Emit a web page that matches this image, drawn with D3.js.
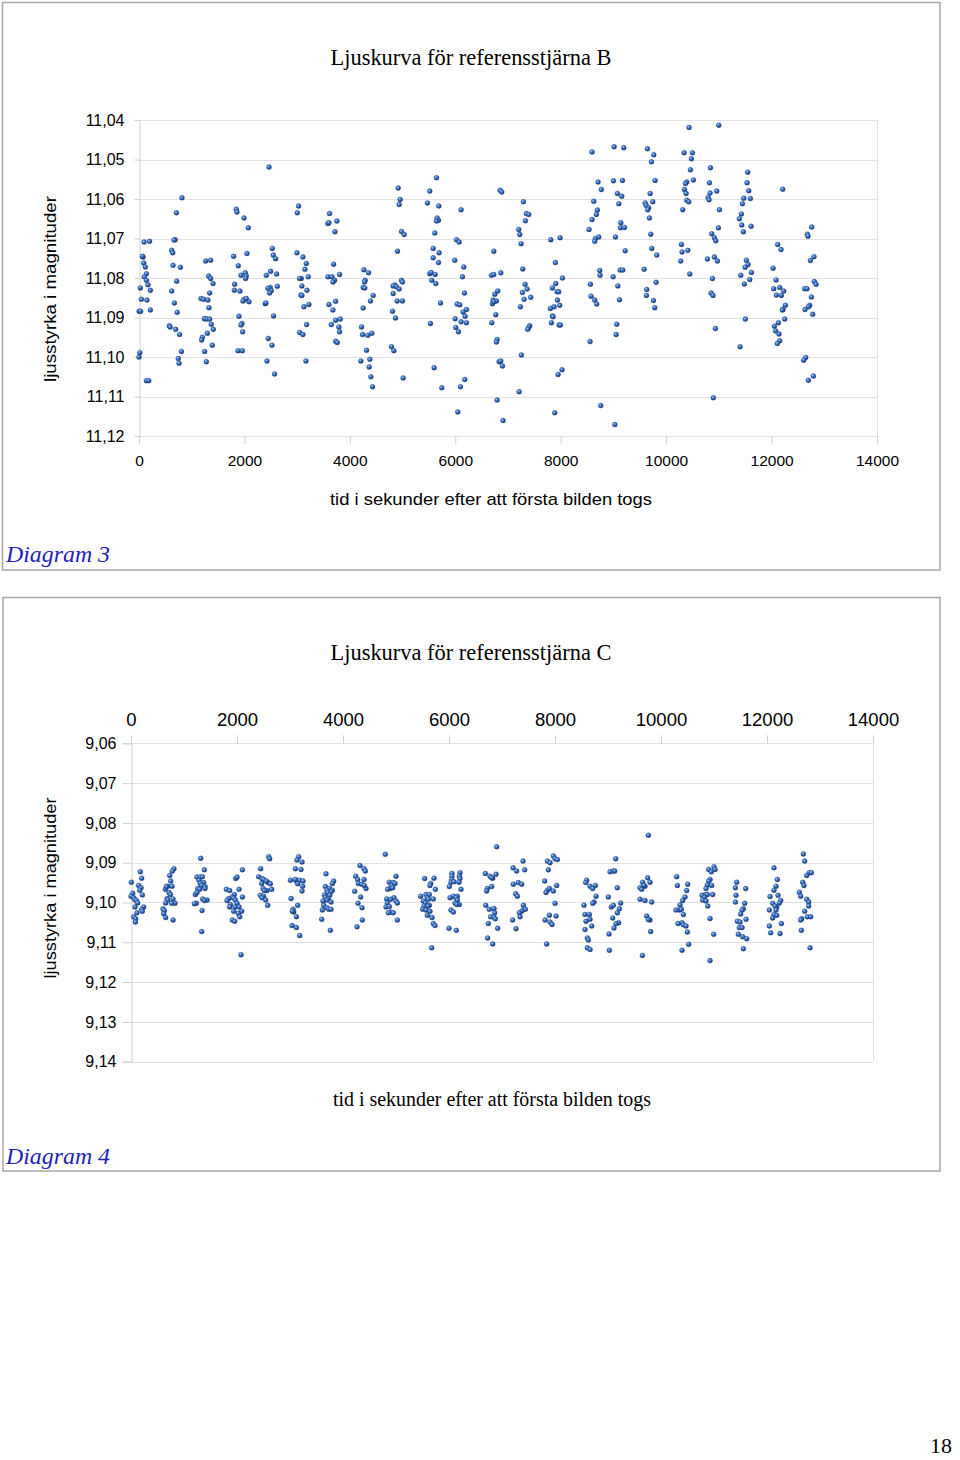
<!DOCTYPE html>
<html><head><meta charset="utf-8">
<script src="https://cdn.jsdelivr.net/npm/d3@7"></script>
<style>
html,body{margin:0;padding:0;background:#fff;}
svg{display:block;}
</style></head>
<body>
<svg id="chart" width="960" height="1460"></svg>
<script>
// ---------------- DATA ----------------
const titleB = "Ljuskurva för referensstjärna B";
const titleC = "Ljuskurva för referensstjärna C";
const xTitle = "tid i sekunder efter att första bilden togs";
const yTitle = "ljusstyrka i magnituder";
const captionB = "Diagram 3";
const captionC = "Diagram 4";
const pageNumber = "18";

const xTicks = [0, 2000, 4000, 6000, 8000, 10000, 12000, 14000];
const yTicksB = [11.04, 11.05, 11.06, 11.07, 11.08, 11.09, 11.10, 11.11, 11.12];
const yLabelsB = ["11,04","11,05","11,06","11,07","11,08","11,09","11,10","11,11","11,12"];
const yTicksC = [9.06, 9.07, 9.08, 9.09, 9.10, 9.11, 9.12, 9.13, 9.14];
const yLabelsC = ["9,06","9,07","9,08","9,09","9,10","9,11","9,12","9,13","9,14"];

// [time (s), magnitude] – reference star B
const starB = [
[0,11.0884],[30,11.0884],[0,11.1000],[15,11.0989],[95,11.0709],[200,11.0707],[75,11.0747],[65,11.0745],[90,11.0762],[120,11.0772],[140,11.0789],[100,11.0797],[170,11.0817],[140,11.0806],[25,11.0825],[215,11.0831],[45,11.0854],[150,11.0856],[215,11.0881],[140,11.1060],[185,11.1060],
[815,11.0597],[710,11.0635],[685,11.0703],[665,11.0704],[620,11.0730],[640,11.0736],[645,11.0768],[785,11.0773],[715,11.0808],[620,11.0833],[670,11.0863],[725,11.0887],[575,11.0921],[590,11.0924],[695,11.0930],[770,11.0943],[805,11.0986],[745,11.1004],[760,11.1016],
[1264,11.0757],[1359,11.0755],[1321,11.0795],[1359,11.0801],[1403,11.0814],[1340,11.0838],[1176,11.0852],[1226,11.0854],[1308,11.0856],[1327,11.0875],[1251,11.0903],[1239,11.0903],[1289,11.0904],[1340,11.0904],[1371,11.0917],[1409,11.0930],[1296,11.0940],[1201,11.0950],[1188,11.0957],[1390,11.0970],[1245,11.0986],[1277,11.1012],
[1845,11.0626],[1858,11.0633],[1991,11.0648],[2073,11.0673],[1795,11.0745],[2048,11.0738],[1883,11.0769],[2016,11.0787],[1934,11.0793],[2035,11.0795],[2022,11.0801],[1814,11.0816],[1808,11.0831],[1915,11.0833],[1997,11.0854],[1972,11.0858],[2086,11.0860],[2035,11.0852],[1896,11.0897],[1953,11.0915],[1934,11.0919],[1966,11.0936],[1877,11.0984],[1959,11.0984],
[2465,11.0519],[2528,11.0725],[2547,11.0742],[2591,11.0751],[2496,11.0783],[2610,11.0790],[2414,11.0793],[2490,11.0824],[2446,11.0826],[2509,11.0832],[2477,11.0838],[2395,11.0865],[2408,11.0863],[2553,11.0896],[2452,11.0953],[2522,11.0970],[2427,11.1010],[2572,11.1043],[2623,11.0821],
[3027,11.0618],[3002,11.0635],[2996,11.0736],[3109,11.0747],[3173,11.0763],[3147,11.0778],[3078,11.0801],[3046,11.0801],[3210,11.0797],[3090,11.0820],[3185,11.0831],[3071,11.0843],[3090,11.0844],[3128,11.0873],[3223,11.0867],[3179,11.0918],[3046,11.0938],[3109,11.0943],[3166,11.1010],
[3615,11.0637],[3583,11.0662],[3602,11.0660],[3754,11.0656],[3716,11.0683],[3691,11.0765],[3805,11.0791],[3583,11.0797],[3660,11.0797],[3710,11.0806],[3678,11.0810],[3729,11.0859],[3602,11.0867],[3678,11.0881],[3729,11.0907],[3818,11.0904],[3647,11.0918],[3792,11.0924],[3805,11.0936],[3729,11.0960],[3760,11.0963],
[4265,11.0779],[4354,11.0787],[4290,11.0806],[4278,11.0810],[4252,11.0824],[4284,11.0825],[4442,11.0844],[4391,11.0858],[4252,11.0876],[4221,11.0924],[4240,11.0943],[4341,11.0945],[4417,11.0940],[4316,11.0983],[4379,11.1006],[4208,11.1010],[4366,11.1025],[4398,11.1050],[4429,11.1075],
[4916,11.0572],[4954,11.0601],[4935,11.0614],[4979,11.0682],[5030,11.0690],[4903,11.0732],[4853,11.0818],[4821,11.0820],[4884,11.0822],[4979,11.0806],[4998,11.0810],[4821,11.0839],[4935,11.0828],[4897,11.0858],[4998,11.0858],[4809,11.0884],[4865,11.0901],[4790,11.0974],[4834,11.0984],[5011,11.1053],
[5643,11.0546],[5516,11.0580],[5472,11.0610],[5687,11.0618],[5655,11.0648],[5681,11.0654],[5643,11.0656],[5611,11.0686],[5580,11.0725],[5693,11.0736],[5580,11.0749],[5681,11.0761],[5516,11.0789],[5542,11.0786],[5618,11.0791],[5554,11.0806],[5630,11.0814],[5719,11.0863],[5529,11.0915],[5599,11.1027],[5744,11.1078],
[6110,11.0627],[6022,11.0703],[6073,11.0709],[5990,11.0755],[6161,11.0772],[6136,11.0797],[6174,11.0838],[6035,11.0866],[6085,11.0868],[6212,11.0880],[6148,11.0886],[6186,11.0897],[5997,11.0903],[6110,11.0911],[6212,11.0913],[6009,11.0925],[6060,11.0936],[6180,11.1057],[6098,11.1075],[6047,11.1139],
[6850,11.0578],[6882,11.0582],[6730,11.0732],[6686,11.0793],[6730,11.0791],[6863,11.0787],[6749,11.0841],[6806,11.0833],[6717,11.0856],[6780,11.0858],[6705,11.0865],[6730,11.0860],[6768,11.0893],[6692,11.0913],[6793,11.0956],[6780,11.0962],[6831,11.1012],[6863,11.1010],[6894,11.1023],[6793,11.1109],[6907,11.1161],
[7292,11.0607],[7349,11.0637],[7393,11.0639],[7330,11.0655],[7204,11.0677],[7223,11.0690],[7248,11.0713],[7280,11.0777],[7324,11.0816],[7273,11.0837],[7362,11.0828],[7431,11.0849],[7305,11.0854],[7235,11.0873],[7412,11.0921],[7393,11.0925],[7374,11.0930],[7254,11.0995],[7210,11.1088],
[7811,11.0703],[7988,11.0698],[7899,11.0761],[8032,11.0800],[7842,11.0825],[7906,11.0814],[7931,11.0835],[7962,11.0835],[7937,11.0856],[7874,11.0873],[7804,11.0877],[7981,11.0869],[7842,11.0896],[7855,11.0898],[7823,11.0913],[7969,11.0919],[7994,11.0919],[8025,11.1032],[7950,11.1044],[7886,11.1141],
[8594,11.0481],[8708,11.0557],[8771,11.0576],[8626,11.0606],[8695,11.0628],[8676,11.0639],[8594,11.0652],[8537,11.0677],[8657,11.0700],[8645,11.0707],[8721,11.0696],[8740,11.0781],[8746,11.0793],[8563,11.0816],[8575,11.0846],[8645,11.0856],[8683,11.0866],[8556,11.0961],[8759,11.1123],
[9013,11.0468],[9196,11.0470],[9000,11.0554],[9171,11.0553],[9076,11.0586],[9158,11.0593],[9102,11.0612],[9140,11.0660],[9133,11.0673],[9209,11.0672],[9038,11.0696],[9222,11.0731],[9127,11.0780],[9177,11.0780],[8994,11.0797],[9083,11.0820],[9114,11.0855],[9064,11.0917],[9051,11.0943],[9026,11.1171],
[9645,11.0473],[9765,11.0488],[9721,11.0506],[9790,11.0553],[9696,11.0586],[9601,11.0610],[9746,11.0607],[9620,11.0616],[9670,11.0622],[9651,11.0627],[9683,11.0648],[9708,11.0689],[9727,11.0725],[9822,11.0742],[9582,11.0778],[9809,11.0811],[9632,11.0829],[9626,11.0844],[9759,11.0857],[9784,11.0875],
[10435,11.0419],[10340,11.0483],[10498,11.0483],[10479,11.0498],[10460,11.0526],[10517,11.0552],[10391,11.0557],[10366,11.0561],[10347,11.0576],[10378,11.0586],[10391,11.0603],[10429,11.0607],[10315,11.0627],[10290,11.0715],[10302,11.0734],[10410,11.0730],[10277,11.0757],[10448,11.0790],
[10998,11.0413],[10840,11.0521],[10821,11.0559],[10960,11.0580],[10833,11.0585],[10795,11.0596],[10814,11.0602],[11010,11.0627],[10991,11.0673],[10865,11.0688],[10915,11.0698],[10941,11.0706],[10783,11.0752],[10915,11.0747],[10972,11.0757],[10878,11.0801],[10852,11.0838],[10890,11.0844],[10934,11.0928],[10896,11.1103],
[11547,11.0532],[11535,11.0559],[11566,11.0579],[11472,11.0598],[11598,11.0599],[11446,11.0612],[11427,11.0638],[11389,11.0650],[11434,11.0666],[11611,11.0669],[11465,11.0683],[11522,11.0755],[11554,11.0766],[11497,11.0773],[11617,11.0786],[11415,11.0793],[11585,11.0804],[11484,11.0815],[11503,11.0904],[11402,11.0974],
[12211,11.0575],[12116,11.0715],[12179,11.0728],[12028,11.0775],[12085,11.0805],[12040,11.0827],[12154,11.0824],[12230,11.0833],[12091,11.0843],[12186,11.0844],[12262,11.0869],[12217,11.0879],[12205,11.0881],[12249,11.0904],[12129,11.0913],[12053,11.0922],[12078,11.0934],[12141,11.0942],[12154,11.0959],[12110,11.0966],
[12761,11.0671],[12679,11.0689],[12691,11.0694],[12805,11.0746],[12736,11.0756],[12811,11.0809],[12843,11.0816],[12628,11.0827],[12672,11.0827],[12755,11.0848],[12723,11.0869],[12698,11.0873],[12634,11.0880],[12780,11.0892],[12647,11.1001],[12609,11.1008],[12793,11.1048],[12698,11.1059]
];

// [time (s), magnitude] – reference star C
const starC = [
[176,9.0923],[201,9.0939],[6,9.0949],[145,9.0957],[189,9.0963],[164,9.0969],[31,9.0977],[214,9.0981],[0,9.0984],[50,9.0988],[69,9.0992],[101,9.0995],[126,9.1001],[239,9.1011],[75,9.1011],[201,9.1017],[113,9.1026],[214,9.1022],[50,9.1036],[88,9.1041],[82,9.1049],
[811,9.0915],[780,9.0921],[730,9.0932],[749,9.0946],[692,9.0959],[648,9.0967],[667,9.0960],[774,9.0959],[717,9.0975],[742,9.0980],[679,9.0990],[692,9.0994],[793,9.0991],[830,9.1002],[767,9.1002],[654,9.1001],[604,9.1016],[629,9.1020],[616,9.1028],[654,9.1038],[793,9.1044],
[1315,9.0889],[1384,9.0918],[1245,9.0936],[1308,9.0936],[1346,9.0935],[1283,9.0944],[1371,9.0950],[1308,9.0952],[1333,9.0957],[1396,9.0960],[1258,9.0965],[1296,9.0967],[1396,9.0965],[1214,9.0980],[1245,9.0975],[1233,9.1002],[1195,9.1003],[1352,9.0991],[1434,9.0994],[1384,9.0995],[1340,9.1020],[1333,9.1073],
[2101,9.0918],[1975,9.0940],[2000,9.0936],[1799,9.0967],[1862,9.0970],[2038,9.0967],[1950,9.0980],[1906,9.0986],[1843,9.0990],[1937,9.0989],[2101,9.0986],[1969,9.0994],[1812,9.0995],[1875,9.1005],[1862,9.1011],[2000,9.1002],[1962,9.1011],[2038,9.1011],[1937,9.1022],[2088,9.1022],[2025,9.1027],[2051,9.1036],[1912,9.1044],[1956,9.1047],[2076,9.1131],
[2598,9.0885],[2617,9.0890],[2447,9.0915],[2409,9.0935],[2472,9.0940],[2503,9.0942],[2585,9.0950],[2629,9.0953],[2466,9.0952],[2554,9.0946],[2491,9.0965],[2566,9.0970],[2516,9.0970],[2654,9.0967],[2440,9.0982],[2503,9.0984],[2472,9.0988],[2541,9.0994],[2579,9.1007],
[3164,9.0885],[3132,9.0893],[3227,9.0898],[3101,9.0915],[3208,9.0917],[3007,9.0944],[3120,9.0946],[3183,9.0944],[3101,9.0942],[3246,9.0946],[3145,9.0953],[3239,9.0959],[3227,9.0971],[3019,9.0990],[3145,9.1007],[3057,9.1017],[3070,9.1024],[3044,9.1022],[3120,9.1036],[3038,9.1058],[3120,9.1063],[3183,9.1083],
[3679,9.0928],[3824,9.0946],[3799,9.0952],[3667,9.0960],[3749,9.0965],[3698,9.0969],[3799,9.0969],[3774,9.0973],[3711,9.0975],[3648,9.0981],[3749,9.0982],[3667,9.0988],[3724,9.0991],[3698,9.0994],[3623,9.0996],[3774,9.0999],[3636,9.1007],[3698,9.1013],[3730,9.1017],[3774,9.1017],[3610,9.1019],[3598,9.1042],[3761,9.1070],
[4320,9.0907],[4396,9.0915],[4421,9.0921],[4239,9.0934],[4276,9.0942],[4396,9.0942],[4289,9.0952],[4358,9.0954],[4434,9.0965],[4402,9.0957],[4220,9.0972],[4333,9.0986],[4283,9.1002],[4358,9.1013],[4364,9.1044],[4264,9.1061],
[4798,9.0879],[4999,9.0934],[4874,9.0949],[4949,9.0950],[4918,9.0957],[4981,9.0952],[4886,9.0965],[4937,9.0963],[4842,9.0967],[4962,9.0988],[4824,9.0991],[4899,9.0992],[4999,9.0996],[4836,9.1001],[5025,9.1001],[4811,9.1011],[4874,9.1010],[4899,9.1024],[4949,9.1026],[4855,9.1026],[5025,9.1044],
[5541,9.0940],[5717,9.0939],[5654,9.0952],[5641,9.0957],[5742,9.0967],[5566,9.0980],[5465,9.0984],[5629,9.0980],[5591,9.0988],[5704,9.0991],[5610,9.0992],[5516,9.0996],[5553,9.1001],[5629,9.1007],[5528,9.1009],[5604,9.1009],[5503,9.1017],[5566,9.1019],[5641,9.1022],[5679,9.1038],[5704,9.1053],[5736,9.1058],[5591,9.1032],[5673,9.1114],
[6056,9.0927],[6207,9.0925],[6056,9.0934],[6195,9.0934],[6050,9.0942],[6207,9.0940],[6037,9.0949],[6094,9.0948],[6188,9.0949],[6006,9.0960],[6226,9.0967],[6082,9.0984],[6157,9.0984],[6019,9.0988],[6132,9.0988],[6157,9.0994],[6113,9.1001],[6195,9.1005],[6145,9.1005],[6037,9.1019],[6082,9.1024],[6000,9.1065],[6138,9.1070],
[6899,9.0860],[6685,9.0927],[6773,9.0934],[6887,9.0929],[6824,9.0939],[6805,9.0938],[6723,9.0965],[6710,9.0971],[6805,9.0960],[6692,9.1007],[6761,9.1017],[6849,9.1015],[6862,9.1026],[6786,9.1036],[6849,9.1037],[6874,9.1041],[6742,9.1053],[6918,9.1065],[6729,9.1089],[6824,9.1104],
[7396,9.0896],[7208,9.0913],[7277,9.0921],[7428,9.0918],[7214,9.0954],[7308,9.0950],[7371,9.0954],[7258,9.0978],[7289,9.0984],[7403,9.1007],[7415,9.1016],[7440,9.1017],[7371,9.1022],[7327,9.1026],[7340,9.1036],[7201,9.1044],[7264,9.1066],
[7969,9.0883],[8000,9.0890],[8044,9.0892],[7856,9.0896],[7906,9.0900],[7874,9.0918],[7805,9.0946],[8031,9.0957],[7856,9.0969],[7893,9.0965],[7969,9.0971],[7830,9.0975],[8000,9.1002],[7893,9.1032],[7812,9.1044],[8019,9.1034],[7906,9.1049],[7944,9.1055],[7843,9.1104],
[8598,9.0944],[8579,9.0950],[8761,9.0957],[8661,9.0959],[8711,9.0965],[8774,9.0984],[8736,9.0999],[8711,9.1002],[8547,9.1007],[8566,9.1030],[8648,9.1030],[8661,9.1042],[8585,9.1047],[8692,9.1059],[8566,9.1068],[8610,9.1089],[8629,9.1094],[8610,9.1114],[8661,9.1118],
[9145,9.0890],[9038,9.0923],[9101,9.0921],[9126,9.0921],[9176,9.0963],[9006,9.0986],[9063,9.1011],[9101,9.1007],[9239,9.1001],[9214,9.1016],[9088,9.1039],[9176,9.1026],[9201,9.1051],[9151,9.1053],[9113,9.1064],[9019,9.1079],[9025,9.1120],
[9761,9.0831],[9748,9.0938],[9654,9.0949],[9698,9.0959],[9792,9.0949],[9604,9.0963],[9635,9.0967],[9679,9.0957],[9604,9.0992],[9698,9.0995],[9824,9.0999],[9730,9.1034],[9792,9.1044],[9761,9.1043],[9805,9.1073],[9648,9.1133],
[10296,9.0935],[10503,9.0954],[10308,9.0957],[10484,9.0970],[10453,9.0986],[10409,9.0995],[10359,9.1006],[10346,9.1019],[10283,9.1019],[10384,9.1017],[10422,9.1030],[10396,9.1051],[10321,9.1053],[10422,9.1056],[10472,9.1059],[10497,9.1074],[10522,9.1105],[10396,9.1120],
[11000,9.0910],[11019,9.0917],[10899,9.0917],[10950,9.0923],[10925,9.0942],[10899,9.0946],[10956,9.0957],[10874,9.0956],[10849,9.0965],[10837,9.0980],[10774,9.0982],[10874,9.0980],[10818,9.0987],[10786,9.0994],[10849,9.0996],[10881,9.1009],[10975,9.0980],[10925,9.1040],[10994,9.1080],[10925,9.1146],
[11428,9.0949],[11403,9.0963],[11598,9.0965],[11415,9.0982],[11403,9.0999],[11579,9.1002],[11554,9.1016],[11529,9.1019],[11503,9.1029],[11604,9.1042],[11440,9.1047],[11491,9.1049],[11478,9.1063],[11529,9.1063],[11459,9.1080],[11541,9.1086],[11617,9.1091],[11554,9.1116],
[12132,9.0913],[12195,9.0942],[12170,9.0959],[12132,9.0969],[12208,9.0982],[12057,9.0985],[12258,9.0995],[12233,9.1001],[12107,9.1002],[12183,9.1011],[12151,9.1009],[12044,9.1019],[12170,9.1019],[12132,9.1030],[12107,9.1039],[12183,9.1032],[12271,9.1053],[12044,9.1059],[12069,9.1076],[12245,9.1078],
[12686,9.0878],[12711,9.0896],[12799,9.0925],[12837,9.0925],[12749,9.0932],[12673,9.0949],[12698,9.0957],[12610,9.0974],[12636,9.0984],[12749,9.0992],[12787,9.0999],[12787,9.1009],[12711,9.1022],[12761,9.1036],[12824,9.1036],[12654,9.1041],[12636,9.1044],[12648,9.1070],[12812,9.1114]
];

// ---------------- DRAW ----------------
const svg = d3.select("#chart");
const SANS = "'Liberation Sans', Arial, sans-serif";
const SERIF = "'Liberation Serif', 'Times New Roman', serif";
const GRID = "#e2e2e2";
const AXIS = "#d0d0d0";

const defs = svg.append("defs");
const grad = defs.append("radialGradient").attr("id","ball")
  .attr("cx","38%").attr("cy","35%").attr("r","70%");
grad.append("stop").attr("offset","0%").attr("stop-color","#b0cdf3");
grad.append("stop").attr("offset","40%").attr("stop-color","#3872c8");
grad.append("stop").attr("offset","100%").attr("stop-color","#142f66");

svg.append("rect").attr("width",960).attr("height",1460).attr("fill","#fff");

function frame(x,y,w,h){
  svg.append("rect").attr("x",x).attr("y",y).attr("width",w).attr("height",h)
    .attr("fill","none").attr("stroke","#a6a6a6").attr("stroke-width",1.5);
}
frame(2.5,2.5,937.5,567.5);
frame(3,597.5,937,573.5);

function drawPlot(opt){
  const x = d3.scaleLinear().domain([0,14000]).range(opt.xr);
  const y = d3.scaleLinear().domain([opt.yTicks[0], opt.yTicks[opt.yTicks.length-1]]).range(opt.yr);
  const g = svg.append("g");
  g.selectAll("line.grid").data(opt.yTicks).join("line")
    .attr("x1",opt.xr[0]).attr("x2",opt.xr[1])
    .attr("y1",d=>Math.round(y(d))+0.5).attr("y2",d=>Math.round(y(d))+0.5)
    .attr("stroke",GRID).attr("stroke-width",1);
  g.append("line").attr("x1",opt.xr[1]+0.5).attr("x2",opt.xr[1]+0.5)
    .attr("y1",opt.yr[0]).attr("y2",opt.yr[1]).attr("stroke",GRID);
  const yAxis = d3.axisLeft(y).tickValues(opt.yTicks)
    .tickFormat((d,i)=>opt.yLabels[i]).tickSize(opt.yTickSize).tickPadding(opt.yPad);
  const ga = g.append("g").attr("transform",`translate(${opt.xr[0]+0.5},0)`).call(yAxis);
  ga.select(".domain").attr("stroke",AXIS);
  ga.selectAll(".tick line").attr("stroke",AXIS);
  ga.selectAll(".tick text").attr("font-family",SANS).attr("font-size",opt.yFont).attr("fill","#000");
  const xAxis = (opt.top ? d3.axisTop(x) : d3.axisBottom(x)).tickValues(xTicks)
    .tickFormat(d3.format("d")).tickSize(8).tickPadding(opt.xPad).tickSizeOuter(0);
  const gx = g.append("g").attr("transform",`translate(0,${opt.top?opt.yr[0]:opt.yr[1]})`).call(xAxis);
  gx.select(".domain").remove();
  gx.selectAll(".tick line").attr("stroke",AXIS);
  gx.selectAll(".tick text").attr("font-family",SANS).attr("font-size",opt.xFont).attr("fill","#000");
  g.append("g").selectAll("circle").data(opt.data).join("circle")
    .attr("cx",d=>x(d[0])).attr("cy",d=>y(d[1])).attr("r",2.5)
    .attr("fill","url(#ball)").attr("stroke","#1f467f").attr("stroke-width",0.3);
}

// Chart B
drawPlot({xr:[139,877], yr:[120,436], yTicks:yTicksB, yLabels:yLabelsB, data:starB,
  yTickSize:5, yPad:10, yFont:16, top:false, xPad:11, xFont:15.5});
// Chart C
drawPlot({xr:[131,873], yr:[743.3,1061.7], yTicks:yTicksC, yLabels:yLabelsC, data:starC,
  yTickSize:9, yPad:6, yFont:16, top:true, xPad:9, xFont:18.5});

function text(str,x,y,o){
  const t = svg.append("text").attr("x",x).attr("y",y).text(str)
    .attr("font-family",o.family).attr("font-size",o.size).attr("fill",o.fill||"#000")
    .attr("text-anchor",o.anchor||"middle");
  if(o.italic) t.attr("font-style","italic");
  if(o.len) t.attr("textLength",o.len).attr("lengthAdjust","spacingAndGlyphs");
  if(o.rotate) t.attr("transform",`rotate(-90,${x},${y})`);
  return t;
}
text(titleB,471,65,{family:SERIF,size:22.5,len:281});
text(titleC,471,660,{family:SERIF,size:22.5,len:281});
text(xTitle,491,505,{family:SANS,size:17,len:322});
text(yTitle,56,289,{family:SANS,size:17,len:186,rotate:true});
text(xTitle,492,1106,{family:SERIF,size:20,len:318});
text(yTitle,56,888,{family:SANS,size:17,len:181,rotate:true});
text(captionB,6,562,{family:SERIF,size:24,fill:"#2222b8",italic:true,anchor:"start",len:104});
text(captionC,6,1164,{family:SERIF,size:24,fill:"#2222b8",italic:true,anchor:"start",len:104});
text(pageNumber,952,1453,{family:SERIF,size:22,anchor:"end"});
</script>
</body></html>
